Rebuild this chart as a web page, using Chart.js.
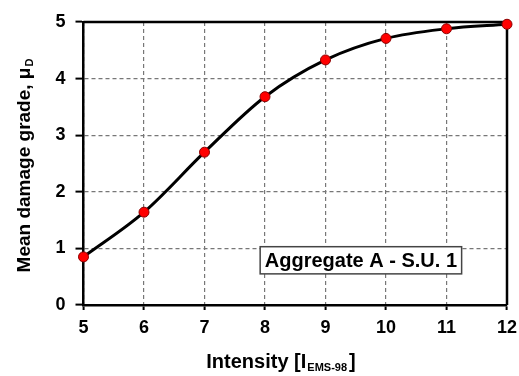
<!DOCTYPE html>
<html>
<head>
<meta charset="utf-8">
<script src="https://cdn.jsdelivr.net/npm/chart.js@4/dist/chart.umd.min.js"></script>
<style>
  html, body { margin: 0; padding: 0; background: #fff; }
  #wrap { width: 519px; height: 376px; }
</style>
</head>
<body>
<div id="wrap"><canvas id="c" width="519" height="376"></canvas></div>
<script>
// Macroseismic intensity (EMS-98) and mean damage grade for the aggregate
const intensities = [5, 6, 7, 8, 9, 10, 11, 12];
const meanDamage = [0.85, 1.64, 2.70, 3.68, 4.33, 4.71, 4.88, 4.96];
const yTicks = [0, 1, 2, 3, 4, 5];
const xTicks = [5, 6, 7, 8, 9, 10, 11, 12];
const boxLabel = 'Aggregate A - S.U. 1';
const yTitle = { main: 'Mean damage grade, \u03bc', sub: 'D' };
const xTitle = { main: 'Intensity [I', sub: 'EMS-98', tail: ']' };

const FONT = '"Liberation Sans", Arial, sans-serif';

// Frame, axis titles with subscripts and the label box
const decorations = {
  id: 'decorations',
  beforeDatasetsDraw(chart) {
    const { ctx, chartArea: a } = chart;
    ctx.save();
    // top and right frame lines
    ctx.strokeStyle = '#000';
    ctx.lineWidth = 2.5;
    ctx.beginPath();
    ctx.moveTo(a.left, a.top);
    ctx.lineTo(a.right, a.top);
    ctx.lineTo(a.right, a.bottom);
    ctx.stroke();
    ctx.restore();
  },
  afterDatasetsDraw(chart) {
    const { ctx, scales } = chart;
    ctx.save();
    // label box
    const x0 = scales.x.getPixelForValue(7.92);
    const x1 = scales.x.getPixelForValue(11.25);
    const y0 = scales.y.getPixelForValue(1.03);
    const y1 = scales.y.getPixelForValue(0.55);
    ctx.fillStyle = '#fff';
    ctx.fillRect(x0, y0, x1 - x0, y1 - y0);
    ctx.strokeStyle = '#444';
    ctx.lineWidth = 1.5;
    ctx.strokeRect(x0, y0, x1 - x0, y1 - y0);
    ctx.fillStyle = '#000';
    ctx.font = 'bold 20px ' + FONT;
    ctx.textAlign = 'center';
    ctx.textBaseline = 'middle';
    ctx.fillText(boxLabel, (x0 + x1) / 2, (y0 + y1) / 2 + 1);
    ctx.restore();
  },
  afterDraw(chart) {
    const { ctx, chartArea: a } = chart;
    ctx.save();
    ctx.fillStyle = '#000';
    ctx.textBaseline = 'alphabetic';
    ctx.textAlign = 'left';

    // x-axis title
    const big = 'bold 19px ' + FONT;
    const bigX = 'bold 20px ' + FONT;
    const small = 'bold 11px ' + FONT;
    ctx.font = bigX;
    const wMain = ctx.measureText(xTitle.main).width;
    const wTail = ctx.measureText(xTitle.tail).width;
    ctx.font = small;
    const wSub = ctx.measureText(xTitle.sub).width + 3;
    let xs = 281 - (wMain + wSub + wTail) / 2;
    const yb = 368;
    ctx.font = bigX;
    ctx.fillText(xTitle.main, xs, yb);
    ctx.font = small;
    ctx.fillText(xTitle.sub, xs + wMain + 1, yb + 3);
    ctx.font = bigX;
    ctx.fillText(xTitle.tail, xs + wMain + wSub, yb);

    // y-axis title (rotated)
    ctx.translate(30, (a.top + a.bottom) / 2 + 2);
    ctx.rotate(-Math.PI / 2);
    ctx.font = big;
    const wy = ctx.measureText(yTitle.main).width;
    ctx.font = small;
    const wys = ctx.measureText(yTitle.sub).width;
    const sx = -(wy + wys + 1) / 2;
    ctx.font = big;
    ctx.fillText(yTitle.main, sx, 0);
    ctx.font = small;
    ctx.fillText(yTitle.sub, sx + wy + 1, 3);
    ctx.restore();
  }
};

new Chart(document.getElementById('c'), {
  type: 'line',
  data: {
    datasets: [{
      data: intensities.map((x, i) => ({ x, y: meanDamage[i] })),
      borderColor: '#000',
      borderWidth: 3,
      cubicInterpolationMode: 'monotone',
      clip: 8,
      pointRadius: 5,
      pointBackgroundColor: '#ff0000',
      pointBorderColor: '#8b0000',
      pointBorderWidth: 1
    }]
  },
  plugins: [decorations],
  options: {
    responsive: false,
    animation: false,
    events: [],
    layout: { padding: { left: 0, right: 12, top: 22, bottom: 0 } },
    plugins: { legend: { display: false }, tooltip: { enabled: false } },
    scales: {
      x: {
        type: 'linear',
        min: 5, max: 12,
        afterBuildTicks: s => { s.ticks = xTicks.map(v => ({ value: v })); },
        afterFit: s => { s.height = 376 - 305; s.paddingLeft = 0; s.paddingRight = 0; },
        border: { display: true, color: '#000', width: 2.5, dash: [4, 3] },
        grid: {
          color: '#777', lineWidth: 1.2,
          drawTicks: true, tickLength: 5, tickColor: '#000', tickWidth: 2, tickBorderDash: []
        },
        ticks: {
          color: '#000', padding: 7,
          font: { family: FONT, size: 18, weight: 'bold' }
        }
      },
      y: {
        min: 0, max: 5,
        afterBuildTicks: s => { s.ticks = yTicks.map(v => ({ value: v })); },
        afterFit: s => { s.width = 83.5; s.paddingTop = 0; s.paddingBottom = 0; },
        border: { display: true, color: '#000', width: 2.5, dash: [4, 3] },
        grid: {
          color: '#777', lineWidth: 1.2,
          drawTicks: true, tickLength: 8, tickColor: '#000', tickWidth: 2, tickBorderDash: []
        },
        ticks: {
          color: '#000', padding: 10,
          font: { family: FONT, size: 18, weight: 'bold' }
        }
      }
    }
  }
});
</script>
</body>
</html>
